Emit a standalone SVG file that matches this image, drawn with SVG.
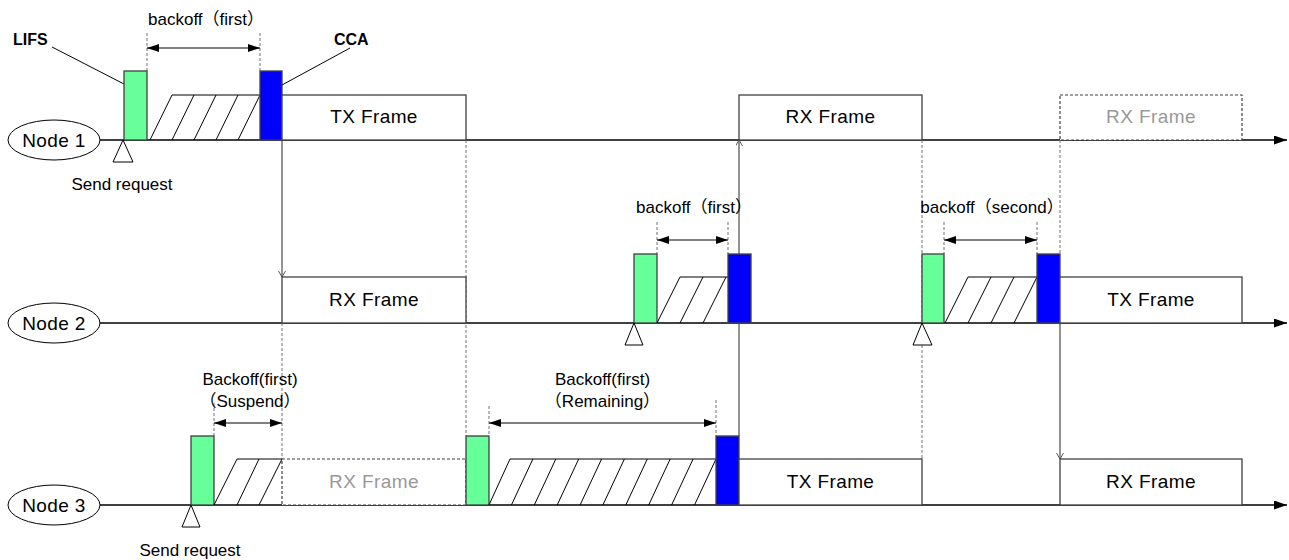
<svg xmlns="http://www.w3.org/2000/svg" width="1289" height="560" viewBox="0 0 1289 560">
<style>
text{font-family:"Liberation Sans","Noto Sans CJK JP",sans-serif;fill:#000}
.lbl{font-size:19px;text-anchor:middle;letter-spacing:0.4px}
.grey{fill:#999}
.small{font-size:17px;text-anchor:middle}
.bold{font-size:16px;font-weight:bold}
.node{fill:#fff;stroke:#000;stroke-width:1}
.tl{stroke:#000;stroke-width:1.4;fill:none}
.frame{fill:#fff;stroke:#404040;stroke-width:1.3}
.dframe{fill:#fff;stroke:#404040;stroke-width:1.2;stroke-dasharray:3,2}
.lifs{fill:#66FF99;stroke:#404040;stroke-width:1.3}
.cca{fill:#0000FF;stroke:#404040;stroke-width:1.3}
.hatch{fill:none;stroke:#000;stroke-width:1}
.dash{stroke:#7f7f7f;stroke-width:1.1;stroke-dasharray:3,2;fill:none}
.sig{stroke:#595959;stroke-width:1.3;fill:none}
.dim{stroke:#000;stroke-width:1.2;fill:none}
.tri{fill:#fff;stroke:#000;stroke-width:1}
.lead{stroke:#000;stroke-width:1;fill:none}
</style>
<defs>
<marker id="tlArrow" markerUnits="userSpaceOnUse" markerWidth="14" markerHeight="10" refX="13" refY="4.5" orient="auto"><path d="M0,0 L13,4.5 L0,9 z" fill="#000"/></marker>
<marker id="dimArrow" markerUnits="userSpaceOnUse" markerWidth="13" markerHeight="9" refX="12" refY="4" orient="auto-start-reverse"><path d="M0,0 L12,4 L0,8 z" fill="#000"/></marker>
<marker id="sigArrow" markerUnits="userSpaceOnUse" markerWidth="8" markerHeight="8" refX="6" refY="3.5" orient="auto"><path d="M0,0 L6,3.5 L0,7" fill="none" stroke="#595959" stroke-width="1"/></marker>
</defs>

<g id="connectors">
<line class="tl" x1="100" y1="140" x2="1287" y2="140" marker-end="url(#tlArrow)"/>
<line class="tl" x1="100" y1="323" x2="1287" y2="323" marker-end="url(#tlArrow)"/>
<line class="tl" x1="100" y1="505" x2="1287" y2="505" marker-end="url(#tlArrow)"/>
<line class="dash" x1="466" y1="140" x2="466" y2="436"/>
<line class="dash" x1="282" y1="323" x2="282" y2="459"/>
<line class="dash" x1="922" y1="140" x2="922" y2="459"/>
<line class="dash" x1="1060" y1="140" x2="1060" y2="254"/>
<line class="sig" x1="282" y1="140" x2="282" y2="277" marker-end="url(#sigArrow)"/>
<line class="sig" x1="739" y1="436" x2="739" y2="140" marker-end="url(#sigArrow)"/>
<line class="sig" x1="1060" y1="323" x2="1060" y2="459" marker-end="url(#sigArrow)"/>
</g>

<g id="node1">
<ellipse class="node" cx="54" cy="140" rx="46" ry="20"/>
<text class="lbl" x="54" y="147">Node 1</text>
</g>
<g id="node2">
<ellipse class="node" cx="54" cy="323" rx="46" ry="20"/>
<text class="lbl" x="54" y="330">Node 2</text>
</g>
<g id="node3">
<ellipse class="node" cx="54" cy="505" rx="46" ry="20"/>
<text class="lbl" x="54" y="512">Node 3</text>
</g>

<g id="node1-events">
<line class="dash" x1="147" y1="33" x2="147" y2="71"/>
<line class="dash" x1="260" y1="33" x2="260" y2="71"/>
<line class="dim" x1="147" y1="48" x2="260" y2="48" marker-start="url(#dimArrow)" marker-end="url(#dimArrow)"/>
<text class="small" x="206" y="25">backoff（first）</text>
<text class="bold" x="13" y="45">LIFS</text>
<text class="bold" x="334" y="45">CCA</text>
<line class="lead" x1="52" y1="47" x2="124" y2="84"/>
<line class="lead" x1="282" y1="85" x2="350" y2="48"/>
<rect class="lifs" x="124" y="71" width="23" height="69"/>
<path class="hatch" d="M150,140 L172,95 H260 M172,140 L194,95 M194,140 L216,95 M216,140 L238,95 M238,140 L260,95"/>
<rect class="cca" x="260" y="71" width="22" height="69"/>
<rect class="frame" x="282" y="95" width="184" height="45"/>
<text class="lbl" x="374" y="123">TX Frame</text>
<rect class="frame" x="739" y="95" width="183" height="45"/>
<text class="lbl" x="830.5" y="123">RX Frame</text>
<rect class="dframe" x="1060" y="95" width="182" height="45"/>
<text class="lbl grey" x="1151" y="123">RX Frame</text>
<path class="tri" d="M123,140 L113,162 L133,162 z"/>
<text class="small" x="122" y="190">Send request</text>
</g>

<g id="node2-events">
<rect class="frame" x="282" y="277" width="184" height="46"/>
<text class="lbl" x="374" y="306">RX Frame</text>
<line class="dash" x1="657" y1="222" x2="657" y2="254"/>
<line class="dash" x1="728" y1="222" x2="728" y2="254"/>
<line class="dim" x1="657" y1="240" x2="728" y2="240" marker-start="url(#dimArrow)" marker-end="url(#dimArrow)"/>
<text class="small" x="694" y="213">backoff（first）</text>
<rect class="lifs" x="634" y="254" width="23" height="69"/>
<path class="hatch" d="M657,323 L680,277 H728 M680,323 L703,277 M703,323 L726,277"/>
<rect class="cca" x="728" y="254" width="23" height="69"/>
<path class="tri" d="M634,323 L625,345 L643,345 z"/>
<line class="dash" x1="944" y1="222" x2="944" y2="254"/>
<line class="dash" x1="1037" y1="222" x2="1037" y2="254"/>
<line class="dim" x1="944" y1="240" x2="1037" y2="240" marker-start="url(#dimArrow)" marker-end="url(#dimArrow)"/>
<text class="small" x="992" y="213">backoff（second）</text>
<rect class="lifs" x="922" y="254" width="22" height="69"/>
<path class="hatch" d="M945,323 L968,277 H1037 M968,323 L991,277 M991,323 L1014,277 M1014,323 L1037,277"/>
<rect class="cca" x="1037" y="254" width="23" height="69"/>
<rect class="frame" x="1060" y="277" width="182" height="46"/>
<text class="lbl" x="1151" y="306">TX Frame</text>
<path class="tri" d="M922,323 L913,345 L932,345 z"/>
</g>

<g id="node3-events">
<line class="dash" x1="214" y1="403" x2="214" y2="436"/>
<line class="dim" x1="214" y1="423" x2="282" y2="423" marker-start="url(#dimArrow)" marker-end="url(#dimArrow)"/>
<text class="small" x="250" y="385">Backoff(first)</text>
<text class="small" x="250" y="407">（Suspend）</text>
<rect class="lifs" x="191" y="436" width="23" height="69"/>
<path class="hatch" d="M214,505 L237,459 H282 M237,505 L259,459 M259,505 L282,459"/>
<rect class="dframe" x="282" y="459" width="184" height="46"/>
<text class="lbl grey" x="374" y="488">RX Frame</text>
<path class="tri" d="M191,505 L182,527 L200,527 z"/>
<text class="small" x="190" y="556">Send request</text>
<line class="dash" x1="489" y1="406" x2="489" y2="436"/>
<line class="dash" x1="716" y1="400" x2="716" y2="436"/>
<line class="dim" x1="489" y1="423" x2="716" y2="423" marker-start="url(#dimArrow)" marker-end="url(#dimArrow)"/>
<text class="small" x="602.5" y="385">Backoff(first)</text>
<text class="small" x="602.5" y="407">（Remaining）</text>
<rect class="lifs" x="466" y="436" width="23" height="69"/>
<path class="hatch" d="M489,505 L510,459 H716 M511.4,505 L532.9,459 M534.3,505 L555.8,459 M557.2,505 L578.7,459 M580.1,505 L601.6,459 M602.9,505 L624.4,459 M625.8,505 L647.3,459 M648.7,505 L670.2,459 M671.6,505 L693.1,459 M694.5,505 L716,459"/>
<rect class="cca" x="716" y="436" width="23" height="69"/>
<rect class="frame" x="739" y="459" width="183" height="46"/>
<text class="lbl" x="830.5" y="488">TX Frame</text>
<rect class="frame" x="1060" y="459" width="182" height="46"/>
<text class="lbl" x="1151" y="488">RX Frame</text>
</g>
</svg>
